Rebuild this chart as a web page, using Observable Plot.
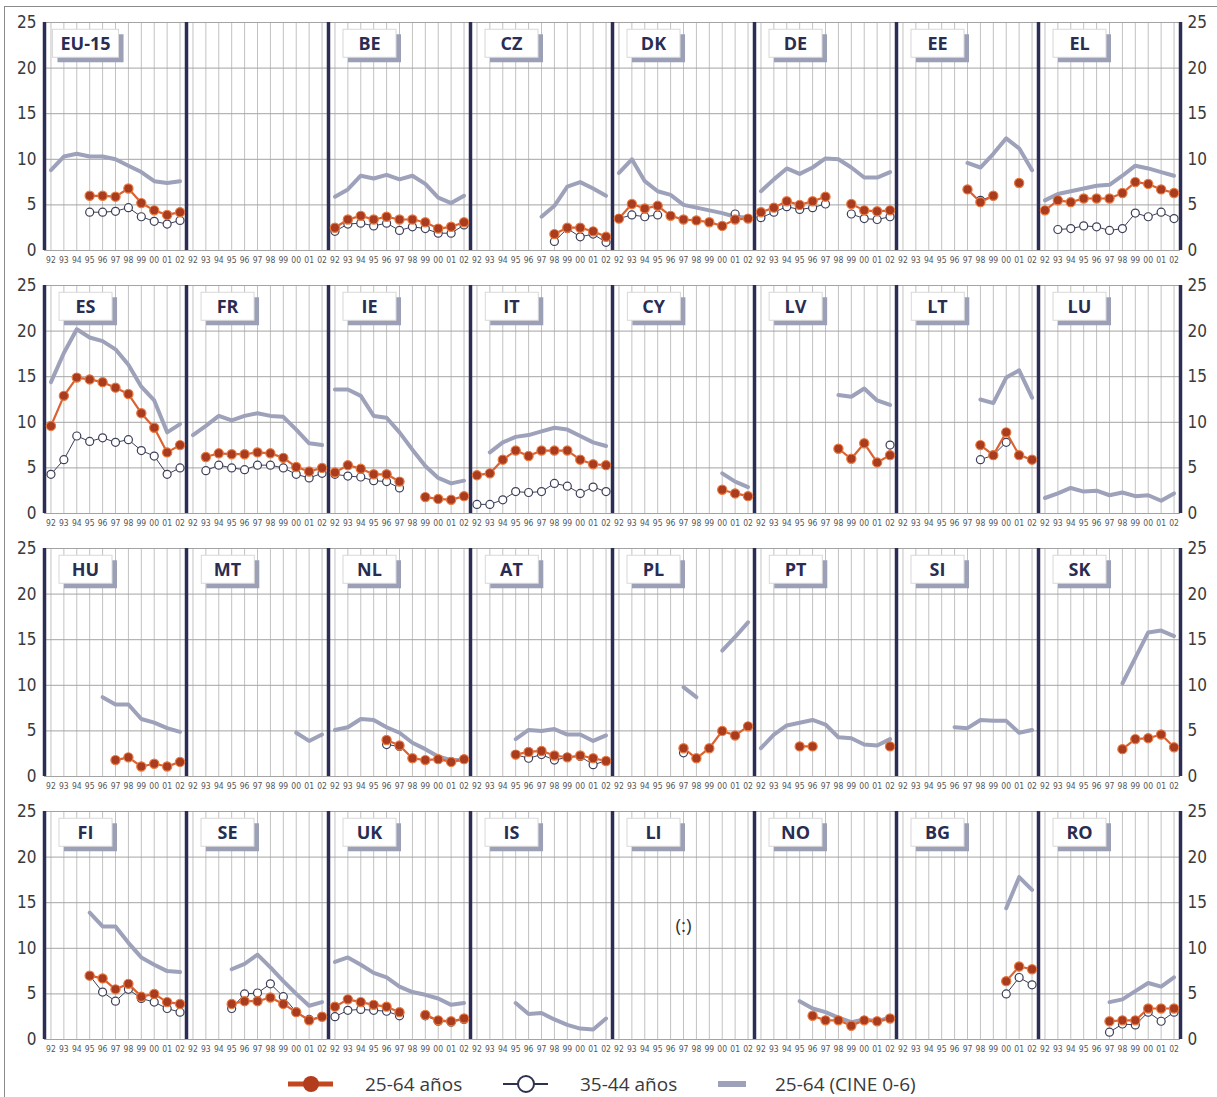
<!DOCTYPE html>
<html><head><meta charset="utf-8">
<script src="https://cdn.jsdelivr.net/npm/d3@7"></script>
<script src="https://cdn.jsdelivr.net/npm/@observablehq/plot@0.6"></script>
<style>
body{margin:0;background:#fff;}
#wrap{position:relative;width:1217px;height:1097px;overflow:hidden;background:#fff;}
#frame{position:absolute;left:4px;top:6px;width:1213px;height:1091px;border-left:1px solid #8a8a8a;border-top:1px solid #8a8a8a;box-sizing:border-box;}
#chart{position:absolute;left:0;top:0;}
#legend{position:absolute;left:0;top:1061px;}
</style></head>
<body><div id="wrap"><div id="frame"></div><div id="chart"></div><div id="legend"></div></div>
<script>
const _ = null;
const years = [1992,1993,1994,1995,1996,1997,1998,1999,2000,2001,2002];
const yTicks = [0,5,10,15,20,25];
const panels = [
  "EU-15","","BE","CZ","DK","DE","EE","EL",
  "ES","FR","IE","IT","CY","LV","LT","LU",
  "HU","MT","NL","AT","PL","PT","SI","SK",
  "FI","SE","UK","IS","LI","NO","BG","RO"
];
// 25-64 (CINE 0-6)
const cine = [
  [8.8,10.3,10.6,10.3,10.3,10.0,9.3,8.6,7.6,7.4,7.6],
  null,
  [5.9,6.7,8.2,7.9,8.3,7.8,8.2,7.3,5.8,5.2,6.0],
  [_,_,_,_,_,3.7,4.9,7.0,7.5,6.8,6.0],
  [8.5,10.0,7.6,6.5,6.1,5.0,4.7,4.4,4.1,3.7,3.6],
  [6.5,7.8,9.0,8.4,9.1,10.1,10.0,9.1,8.0,8.0,8.6],
  [_,_,_,_,_,9.6,9.1,10.6,12.3,11.2,8.8],
  [5.5,6.2,6.5,6.8,7.1,7.2,8.2,9.3,9.0,8.6,8.2],
  [14.4,17.6,20.2,19.3,18.9,18.0,16.3,13.9,12.4,8.9,9.8],
  [8.6,9.6,10.7,10.2,10.7,11.0,10.7,10.6,9.2,7.7,7.5],
  [13.6,13.6,12.9,10.7,10.5,8.9,7.0,5.2,3.9,3.3,3.6],
  [_,6.7,7.8,8.4,8.6,9.0,9.4,9.2,8.5,7.8,7.4],
  [_,_,_,_,_,_,_,_,4.4,3.5,2.9],
  [_,_,_,_,_,_,13.0,12.8,13.7,12.4,11.9],
  [_,_,_,_,_,_,12.5,12.1,14.9,15.7,12.7],
  [1.7,2.2,2.8,2.4,2.5,2.0,2.3,1.9,2.0,1.4,2.2],
  [_,_,_,_,8.7,7.9,7.9,6.3,5.9,5.3,4.9],
  [_,_,_,_,_,_,_,_,4.8,3.9,4.6],
  [5.1,5.4,6.3,6.2,5.4,4.8,3.7,3.0,2.2,1.8,1.8],
  [_,_,_,4.1,5.1,5.0,5.2,4.6,4.6,3.9,4.5],
  [_,_,_,_,_,9.8,8.7,_,13.8,15.3,16.9],
  [3.1,4.6,5.6,5.9,6.2,5.7,4.3,4.2,3.5,3.4,4.1],
  [_,_,_,_,5.4,5.3,6.2,6.1,6.1,4.8,5.1],
  [_,_,_,_,_,_,10.2,13.0,15.8,16.0,15.4],
  [_,_,_,13.9,12.4,12.4,10.6,9.0,8.2,7.5,7.4],
  [_,_,_,7.7,8.3,9.3,7.9,6.4,5.0,3.7,4.1],
  [8.5,9.0,8.2,7.3,6.8,5.8,5.2,4.9,4.5,3.8,4.0],
  [_,_,_,4.0,2.8,2.9,2.2,1.6,1.2,1.1,2.3],
  null,
  [_,_,_,4.2,3.4,3.0,2.4,1.9,2.2,2.0,2.4],
  [_,_,_,_,_,_,_,_,14.4,17.8,16.4],
  [_,_,_,_,_,4.1,4.4,5.3,6.2,5.8,6.8]
];
// 25-64 años
const age2564 = [
  [_,_,_,6.0,6.0,5.9,6.8,5.2,4.4,3.9,4.2],
  null,
  [2.5,3.4,3.8,3.4,3.7,3.4,3.4,3.1,2.4,2.6,3.1],
  [_,_,_,_,_,_,1.8,2.5,2.5,2.1,1.5],
  [3.5,5.1,4.6,4.9,3.8,3.4,3.3,3.1,2.7,3.4,3.5],
  [4.2,4.7,5.4,5.0,5.4,5.9,_,5.1,4.4,4.3,4.4],
  [_,_,_,_,_,6.7,5.3,6.0,_,7.4,_],
  [4.4,5.5,5.3,5.7,5.7,5.7,6.3,7.5,7.3,6.7,6.3],
  [9.6,12.9,14.9,14.7,14.4,13.8,13.1,11.0,9.4,6.7,7.5],
  [_,6.2,6.6,6.5,6.5,6.7,6.6,6.1,5.1,4.6,5.0],
  [4.5,5.3,4.9,4.3,4.3,3.5,_,1.8,1.6,1.5,1.9],
  [4.2,4.4,5.9,6.9,6.3,6.9,6.9,6.9,5.9,5.4,5.3],
  [_,_,_,_,_,_,_,_,2.6,2.2,1.9],
  [_,_,_,_,_,_,7.1,6.0,7.7,5.6,6.4],
  [_,_,_,_,_,_,7.5,6.4,8.9,6.4,5.9],
  null,
  [_,_,_,_,_,1.8,2.1,1.1,1.4,1.1,1.6],
  null,
  [_,_,_,_,4.0,3.4,2.0,1.8,1.9,1.6,1.9],
  [_,_,_,2.4,2.7,2.8,2.3,2.1,2.3,2.0,1.7],
  [_,_,_,_,_,3.1,2.0,3.1,5.0,4.5,5.5],
  [_,_,_,3.3,3.3,_,_,_,_,_,3.3],
  null,
  [_,_,_,_,_,_,3.0,4.1,4.2,4.6,3.2],
  [_,_,_,7.0,6.7,5.5,6.1,4.7,5.0,4.1,3.9],
  [_,_,_,3.9,4.2,4.2,4.6,3.9,3.0,2.1,2.5],
  [3.6,4.4,4.1,3.8,3.6,3.0,_,2.7,2.1,2.0,2.3],
  null,
  null,
  [_,_,_,_,2.6,2.1,2.1,1.5,2.1,2.0,2.3],
  [_,_,_,_,_,_,_,_,6.4,8.0,7.7],
  [_,_,_,_,_,2.0,2.1,2.1,3.4,3.4,3.4]
];
// 35-44 años
const age3544 = [
  [_,_,_,4.2,4.2,4.3,4.7,3.7,3.2,2.9,3.3],
  null,
  [2.1,2.9,3.0,2.7,3.0,2.2,2.6,2.4,1.9,1.9,2.8],
  [_,_,_,_,_,_,1.0,2.4,1.5,1.8,0.9],
  [3.5,3.9,3.7,3.9,_,_,_,_,_,4.0,_],
  [3.6,4.2,4.8,4.5,4.7,5.1,_,4.0,3.5,3.4,3.7],
  [_,_,_,_,_,_,5.5,6.0,_,_,_],
  [_,2.3,2.4,2.7,2.6,2.2,2.4,4.1,3.7,4.2,3.5],
  [4.3,5.9,8.5,7.9,8.3,7.8,8.1,6.9,6.3,4.3,5.0],
  [_,4.7,5.3,5.0,4.8,5.3,5.3,5.0,4.3,3.9,4.4],
  [4.3,4.1,4.0,3.6,3.5,2.8,_,_,_,_,_],
  [1.0,1.0,1.5,2.4,2.3,2.4,3.3,3.0,2.2,2.9,2.4],
  null,
  [_,_,_,_,_,_,_,_,_,_,7.5],
  [_,_,_,_,_,_,5.9,6.4,7.8,_,_],
  null,
  null,
  null,
  [_,_,_,_,3.5,3.3,_,_,_,_,_],
  [_,_,_,2.4,2.0,2.4,1.8,2.1,2.2,1.3,1.7],
  [_,_,_,_,_,2.6,_,_,_,_,_],
  null,
  null,
  null,
  [_,_,_,7.0,5.2,4.2,5.5,4.5,4.1,3.4,3.0],
  [_,_,_,3.4,5.0,5.1,6.1,4.7,3.0,2.2,2.5],
  [2.5,3.2,3.3,3.2,3.1,2.6,_,2.6,2.0,1.9,2.2],
  null,
  null,
  null,
  [_,_,_,_,_,_,_,_,5.0,6.8,6.0],
  [_,_,_,_,_,0.8,1.7,1.6,3.0,2.0,3.0]
];
const noteCodes = ["LI"];
const noteTexts = ["(:)"];
const legendLabels = ["25-64 años", "35-44 años", "25-64 (CINE 0-6)"];

const NCOL = 8;
const panelTable = panels.map((code, i) => ({code, col: i % NCOL, row: Math.floor(i / NCOL)}));
function longForm(series) {
  const out = [];
  series.forEach((vals, i) => {
    if (!vals) return;
    vals.forEach((v, j) => out.push({code: panels[i], col: i % NCOL, row: Math.floor(i / NCOL), year: years[j], value: v}));
  });
  return out;
}
const cineData = longForm(cine);
const redData = longForm(age2564);
const whiteData = longForm(age3544);
const noteTable = noteCodes.map((c, k) => {
  const i = panels.indexOf(c);
  return {code: c, text: noteTexts[k], col: i % NCOL, row: Math.floor(i / NCOL)};
});

const xMin = years[0] - 0.5, xMax = years[years.length - 1] + 0.5;
const NAVY = "#2b2d55";
const FONT = "'DejaVu Sans Condensed', 'Liberation Sans Narrow', 'DejaVu Sans', sans-serif";
const fxy = {fx: "col", fy: "row"};

const chart = Plot.plot({
  width: 1217, height: 1061,
  marginLeft: 44, marginRight: 37, marginTop: 22, marginBottom: 22,
  style: {fontFamily: FONT, background: "transparent", color: "#333"},
  fx: {axis: null, domain: d3.range(8), paddingInner: 0, paddingOuter: 0},
  fy: {axis: null, domain: d3.range(4), paddingInner: 0.1331, paddingOuter: 0},
  x: {domain: [xMin, xMax], axis: null},
  y: {domain: [0, 25]},
  marks: [
    Plot.gridX(years, {stroke: "#c2c2c2", strokeOpacity: 1, strokeWidth: 1}),
    Plot.gridY(yTicks, {stroke: "#a4a4a4", strokeOpacity: 1, strokeWidth: 1}),
    Plot.text(years, {x: d => d, text: d => String(d).slice(2), frameAnchor: "bottom", dy: 12, fontSize: 8.5, fill: "#555"}),
    Plot.axisY(yTicks, {anchor: "left", tickSize: 0, tickPadding: 8, fontSize: 17, label: null, color: "#3a3a3a"}),
    Plot.axisY(yTicks, {anchor: "right", tickSize: 0, tickPadding: 7, fontSize: 17, label: null, color: "#3a3a3a"}),
    Plot.ruleX(panelTable, {...fxy, x: () => xMin, stroke: NAVY, strokeWidth: 3.5}),
    Plot.ruleX(panelTable.filter(d => d.col === NCOL - 1), {...fxy, x: () => xMax, stroke: NAVY, strokeWidth: 3.5}),
    Plot.text(panelTable, {...fxy, text: "code", frameAnchor: "top-left", dx: 41, dy: 22, textAnchor: "middle", lineAnchor: "middle",
      fontSize: 18, fontWeight: "bold", fill: "#2a2d52", fontFamily: "'Open Sans', 'Noto Sans', sans-serif", ariaDescription: "panel-label"}),
    Plot.text(noteTable, {...fxy, text: "text", frameAnchor: "middle", fontSize: 19, fill: "#333", fontFamily: "'Open Sans', sans-serif"}),
    Plot.line(cineData, {...fxy, x: "year", y: "value", stroke: "#9da1b9", strokeWidth: 4, strokeLinejoin: "round"}),
    Plot.line(whiteData, {...fxy, x: "year", y: "value", stroke: "#3c3f58", strokeWidth: 1}),
    Plot.dot(whiteData, {...fxy, x: "year", y: "value", r: 4, fill: "#fff", stroke: "#3c3f58", strokeWidth: 1.2}),
    Plot.line(redData, {...fxy, x: "year", y: "value", stroke: "#dc6232", strokeWidth: 2.2}),
    Plot.dot(redData, {...fxy, x: "year", y: "value", r: 4.6, fill: "#a93b1e", stroke: "#e8783e", strokeWidth: 1.2})
  ]
});
document.getElementById("chart").appendChild(chart);

// label boxes with drop shadow behind each panel code
const SVGNS = "http://www.w3.org/2000/svg";
d3.select(chart).selectAll('g[aria-description="panel-label"] text').each(function() {
  const bb = this.getBBox();
  if (!bb.width) return;
  const tr = this.getAttribute("transform");
  const w = Math.max(53, bb.width + 16), h = 28;
  const cx = bb.x + bb.width / 2, cy = bb.y + bb.height / 2;
  const parent = this.parentNode;
  const sh = document.createElementNS(SVGNS, "rect");
  sh.setAttribute("x", cx - w / 2 + 5); sh.setAttribute("y", cy - h / 2 + 5);
  sh.setAttribute("width", w); sh.setAttribute("height", h); sh.setAttribute("fill", "#9ca0b6");
  if (tr) sh.setAttribute("transform", tr);
  const bx = document.createElementNS(SVGNS, "rect");
  bx.setAttribute("x", cx - w / 2); bx.setAttribute("y", cy - h / 2);
  bx.setAttribute("width", w); bx.setAttribute("height", h); bx.setAttribute("fill", "#fff");
  bx.setAttribute("stroke", "#d8d8d8"); bx.setAttribute("stroke-width", 1);
  if (tr) bx.setAttribute("transform", tr);
  parent.insertBefore(sh, this);
  parent.insertBefore(bx, this);
});

// legend
const lg = d3.select("#legend").append("svg").attr("width", 1217).attr("height", 36)
  .style("font-family", "'Open Sans', 'Noto Sans', sans-serif");
const cy = 23;
lg.append("line").attr("x1", 288).attr("x2", 333).attr("y1", cy).attr("y2", cy).attr("stroke", "#c4461f").attr("stroke-width", 5);
lg.append("circle").attr("cx", 311).attr("cy", cy).attr("r", 8).attr("fill", "#b23c1c");
lg.append("text").attr("x", 365).attr("y", cy).attr("dy", "0.35em").attr("font-size", 19).attr("fill", "#3a3a3a").text(legendLabels[0]);
lg.append("line").attr("x1", 503).attr("x2", 548).attr("y1", cy).attr("y2", cy).attr("stroke", "#2e3150").attr("stroke-width", 2);
lg.append("circle").attr("cx", 526).attr("cy", cy).attr("r", 8).attr("fill", "#fff").attr("stroke", "#2e3150").attr("stroke-width", 2);
lg.append("text").attr("x", 580).attr("y", cy).attr("dy", "0.35em").attr("font-size", 19).attr("fill", "#3a3a3a").text(legendLabels[1]);
lg.append("line").attr("x1", 718).attr("x2", 746).attr("y1", cy).attr("y2", cy).attr("stroke", "#9da1b9").attr("stroke-width", 6);
lg.append("text").attr("x", 775).attr("y", cy).attr("dy", "0.35em").attr("font-size", 19).attr("fill", "#3a3a3a").text(legendLabels[2]);
</script>
</body></html>
